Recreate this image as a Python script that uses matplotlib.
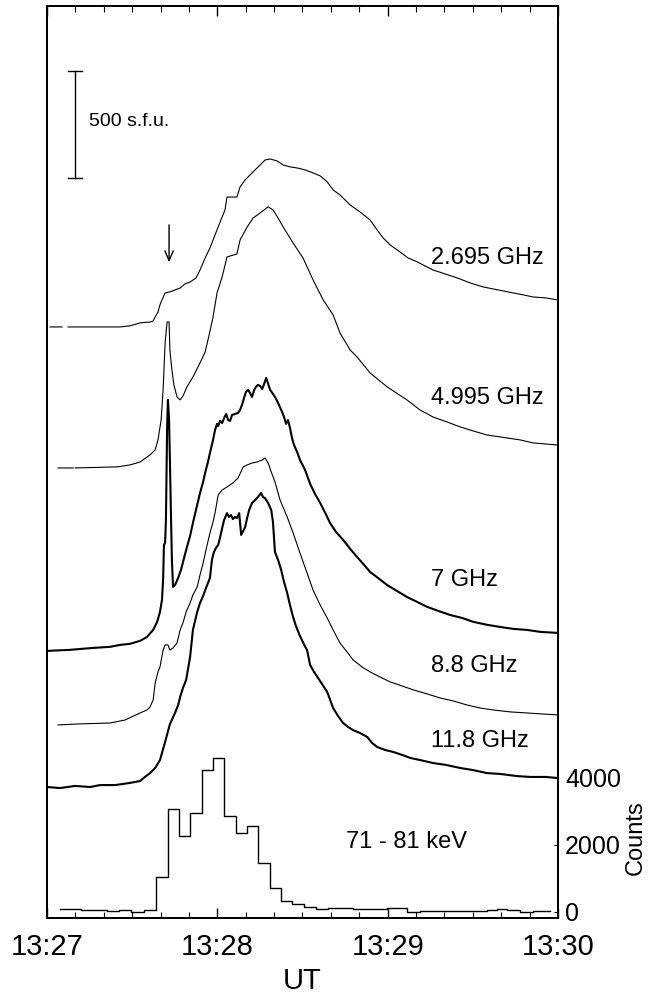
import numpy as np
import matplotlib
matplotlib.use("Agg")
import matplotlib.pyplot as plt
from matplotlib.ticker import MultipleLocator

plt.rcParams['font.family'] = ['Liberation Sans', 'DejaVu Sans']

# time in seconds after 13:27:00 UT, flux in s.f.u. above pre-flare level
nan = np.nan

t_2695 = [1.1, 5.3, nan, 7.4, 25.7, 29.2, 32.8, 36.3, 37.4, 38.1, 39.1, 39.8, 40.5, 41.6, 43.3, 45.1,
          46.9, 48.6, 50.4, 52.5, 53.9, 55.7, 57.4, 59.2, 61.0, 62.7, 63.4, 66.9, 68.0, 69.8, 71.5,
          73.3, 75.1, 76.8, 78.6, 81.0, 83.2, 85.6, 88.1, 90.9, 93.7, 96.2, 98.7, 100.8, 103.2,
          106.8, 110.3, 113.8, 116.3, 118.4, 120.9, 124.4, 127.2, 130.4, 133.2, 136.0, 140.2,
          144.5, 149.0, 153.6, 158.9, 164.2, 167.7, 171.2, 175.5, 180.0]
f_2695 = [0, 0, nan, 0, 0, 5, 19, 23, 28, 47, 70, 103, 126, 159, 164, 173,
          182, 201, 210, 229, 266, 322, 369, 430, 491, 547, 607, 607, 654, 687, 710,
          734, 757, 780, 785, 776, 757, 748, 743, 734, 720, 706, 678, 640, 617,
          570, 537, 500, 453, 416, 383, 350, 322, 304, 285, 266, 248,
          229, 206, 187, 173, 159, 150, 140, 136, 126]

t_4995 = [3.9, 9.2, nan, 9.9, 24.7, 29.2, 32.8, 36.3, 38.1, 39.1, 40.2, 40.9, 41.6, 42.3, 43.0, 43.3,
          44.0, 44.7, 45.8, 46.9, 47.9, 49.3, 51.4, 53.9, 55.7, 57.1, 58.5, 59.9, 61.7, 63.4,
          66.9, 68.0, 70.5, 72.6, 75.1, 77.9, 79.6, 81.4, 83.2, 86.7, 90.2, 93.7, 97.3, 100.8,
          103.2, 106.8, 109.2, 113.8, 119.8, 126.8, 131.4, 136.0, 140.9, 145.5, 150.1, 155.0,
          162.1, 166.7, 171.2, 180.0]
f_4995 = [0, 0, nan, 0, 5, 14, 28, 61, 84, 131, 224, 364, 584, 682, 682, 551,
          458, 388, 332, 318, 336, 379, 425, 491, 542, 621, 706, 818, 893, 986,
          1000, 1065, 1126, 1168, 1192, 1220, 1206, 1168, 1126, 1051, 981, 879, 785, 715,
          631, 551, 519, 444, 379, 318, 271, 238, 215, 192, 173, 154,
          140, 131, 117, 107]

t_7 = [0.0, 8.1, 16.2, 22.2, 25.7, 29.2, 32.8, 35.2, 37.4, 38.8, 39.8, 40.5, 40.9, 41.2, 41.6, 41.9,
       42.3, 42.6, 43.0, 43.3, 43.7, 44.0, 44.4, 45.1, 46.2, 47.2, 48.3, 49.3, 50.4, 51.4, 52.9,
       53.9, 55.0, 55.7, 56.7, 57.4, 58.5, 59.2, 59.9, 60.3, 61.0, 61.7, 62.4, 63.1, 63.8, 64.5,
       65.2, 66.2, 67.3, 68.0, 68.7, 69.4, 70.1, 70.8, 71.5, 72.2, 73.0, 73.6, 74.3, 75.1, 75.8,
       76.5, 77.2, 77.9, 78.6, 79.6, 80.7, 81.7, 82.8, 83.5, 84.2, 84.9, 85.6, 86.3, 87.0, 88.1,
       89.1, 90.9, 92.7, 94.4, 96.2, 98.0, 99.7, 101.8, 104.3, 106.8, 109.2, 111.7, 113.8, 116.6,
       119.8, 123.3, 126.8, 130.4, 133.9, 137.8, 142.0, 146.2, 150.1, 155.0, 159.6, 164.2, 169.1,
       173.7, 180.0]
f_7 = [0, 5, 14, 19, 28, 33, 47, 65, 98, 136, 182, 238, 332, 495, 505, 612,
       1033, 1173, 1079, 893, 612, 425, 299, 308, 341, 379, 435, 486, 537, 598, 682,
       738, 790, 832, 883, 925, 986, 1033, 1061, 1051, 1075, 1065, 1089, 1107, 1079, 1075,
       1103, 1107, 1112, 1126, 1150, 1182, 1210, 1220, 1206, 1187, 1220, 1234, 1243, 1238, 1224,
       1248, 1276, 1248, 1220, 1201, 1178, 1150, 1117, 1093, 1061, 1079, 1042, 995, 963, 930,
       893, 846, 780, 734, 692, 645, 598, 556, 519, 477, 439, 402, 369, 341,
       308, 280, 252, 229, 206, 187, 168, 154, 136, 122, 112, 103, 98,
       89, 84]

t_88 = [3.9, 11.6, 22.2, 27.5, 32.8, 35.2, 36.3, 37.4, 38.1, 39.1, 39.8, 40.9, 41.6, 42.6, 43.3, 44.4,
        45.8, 46.9, 47.9, 49.0, 50.4, 51.4, 52.9, 53.9, 55.0, 56.4, 57.4, 58.5, 59.2, 60.3, 61.7,
        63.4, 65.5, 67.3, 69.1, 70.5, 72.2, 74.0, 75.8, 76.8, 77.9, 79.0, 80.3, 82.1, 84.6, 86.7,
        89.1, 91.6, 93.7, 96.2, 98.7, 100.8, 103.2, 105.7, 107.8, 111.0, 113.8, 117.3, 120.9,
        125.1, 129.0, 133.9, 138.5, 143.1, 148.0, 152.6, 157.2, 163.1, 169.1, 174.8, 180.0]
f_88 = [0, 5, 9, 23, 56, 70, 84, 117, 196, 248, 271, 350, 374, 374, 350, 360,
        383, 444, 477, 528, 570, 607, 645, 701, 757, 841, 897, 949, 991, 1075, 1098,
        1112, 1131, 1154, 1206, 1215, 1224, 1229, 1238, 1248, 1224, 1182, 1136, 1051, 972, 897,
        804, 710, 631, 561, 500, 444, 383, 341, 304, 271, 248, 224, 201,
        182, 164, 145, 126, 112, 93, 79, 70, 61, 56, 51, 47]

t_118 = [0.0, 4.6, 9.9, 15.2, 18.7, 24.0, 29.2, 32.8, 34.5, 36.3, 38.1, 39.8, 41.6, 43.3, 45.1, 46.2,
         46.9, 47.9, 49.0, 50.4, 51.4, 52.9, 53.9, 55.0, 56.0, 56.7, 57.4, 58.1, 58.8, 59.5, 60.3,
         61.0, 61.7, 62.4, 63.4, 64.1, 64.8, 65.5, 66.2, 66.9, 67.7, 68.4, 69.1, 69.8, 70.5, 71.2,
         72.2, 73.3, 74.3, 75.4, 76.1, 76.8, 77.9, 79.0, 79.6, 80.3, 81.4, 82.5, 83.5, 84.6, 85.6,
         86.7, 87.7, 89.1, 90.6, 91.6, 92.7, 94.1, 95.5, 96.9, 98.7, 100.8, 102.5, 104.3, 106.1,
         107.8, 110.3, 112.8, 114.5, 116.3, 119.1, 121.9, 125.1, 127.9, 131.4, 136.0, 140.6, 145.5,
         150.1, 155.0, 159.6, 165.6, 170.2, 175.5, 180.0]
f_118 = [0, -5, 5, 0, 9, 9, 19, 28, 47, 65, 89, 126, 210, 294, 346, 383,
         421, 463, 500, 607, 734, 818, 860, 893, 930, 953, 977, 1061, 1098, 1117, 1131,
         1168, 1210, 1248, 1280, 1262, 1271, 1252, 1262, 1257, 1280, 1178, 1196, 1215, 1257, 1294,
         1327, 1341, 1355, 1374, 1355, 1350, 1327, 1294, 1238, 1098, 1061, 1014, 958, 907, 850,
         794, 752, 706, 664, 640, 570, 537, 509, 481, 444, 369, 332, 299, 280,
         266, 252, 234, 206, 187, 173, 164, 150, 136, 126, 112, 103, 89,
         79, 65, 61, 51, 47, 47, 42]

# 71-81 keV counts, bin start times
t_hxr = [4.6, 12.0, 21.0, 25.5, 29.5, 34.0, 38.4, 42.6, 46.5, 50.4, 54.6, 58.5, 62.4, 66.6, 70.5,
         74.3, 78.6, 82.5, 86.3, 90.6, 94.8, 99.0, 107.8, 119.8, 126.8, 131.4, 155.0, 158.6,
         162.1, 166.7, 171.2, 177.2]
c_hxr = [90, 60, 30, 50, 0, 60, 1045, 3075, 2270, 2955, 4240, 4600, 2865, 2360, 2570,
         1460, 715, 330, 240, 150, 90, 120, 90, 120, 0, 30, 60, 90,
         60, 0, 30, 30]

series = [(t_2695, f_2695, "2.695 GHz"), (t_4995, f_4995, "4.995 GHz"), (t_7, f_7, "7 GHz"),
          (t_88, f_88, "8.8 GHz"), (t_118, f_118, "11.8 GHz")]
offsets = [2762, 2103, 1248, 902, 612]
widths = [0.8, 0.8, 1.5, 0.8, 1.5]
label_y = [3056, 2402, 1551, 1150, 799]

fig = plt.figure(figsize=(6.49, 9.94), dpi=100)
ax = fig.add_axes([0.0724, 0.0765, 0.7874, 0.9175])

for (t, f, name), off, lw, ly in zip(series, offsets, widths, label_y):
    ax.plot(t, np.array(f, dtype=float) + off, color='k', lw=lw)
    ax.text(135.2, ly, name, fontsize=17, va='baseline', ha='left')

# scale bar and arrow
bar_t, bar_top, bar_len = 9.87, 3958, 500
ax.plot([bar_t, bar_t], [bar_top - bar_len, bar_top], color='k', lw=1.0)
for yy in [bar_top - bar_len, bar_top]:
    ax.plot([bar_t - 2.5, bar_t + 2.5], [yy, yy], color='k', lw=1.0)
ax.text(14.8, 3701, "500 s.f.u.", fontsize=14, va='baseline')
ax.annotate("", xy=(43.0, 3051), xytext=(43.0, 3252),
            arrowprops=dict(arrowstyle='->,head_length=0.7,head_width=0.3', color='k', lw=1.0))

ax.set_xlim(0, 180)
ax.set_ylim(0, 4262)
ax.set_xticks([0, 60, 120, 180])
ax.set_xticklabels(['13:27', '13:28', '13:29', '13:30'])
ax.xaxis.set_minor_locator(MultipleLocator(10))
ax.tick_params(axis='x', which='both', direction='in', top=True, bottom=True, labelsize=21, pad=11)
ax.tick_params(axis='x', which='major', length=7, width=1.0)
ax.tick_params(axis='x', which='minor', length=4, width=0.8)
ax.set_yticks([])
ax.set_xlabel('UT', fontsize=21, labelpad=4)
for s in ax.spines.values():
    s.set_linewidth(1.3)

ax2 = ax.twinx()
ax2.step(t_hxr, c_hxr, where='post', color='k', lw=1.0)
ax2.set_ylim(-179, 27045)
ax2.set_yticks([0, 2000, 4000])
ax2.tick_params(axis='y', direction='in', length=3, labelsize=18, pad=5)
ax2.text(105.4, 1910, "71 - 81 keV", fontsize=17, va='baseline')
ax2.text(1.1526, 0.0877, 'Counts', rotation=90, transform=ax2.transAxes,
         ha='center', va='center', fontsize=17)
for s in ax2.spines.values():
    s.set_linewidth(1.3)

fig.savefig("out.png", dpi=100)
